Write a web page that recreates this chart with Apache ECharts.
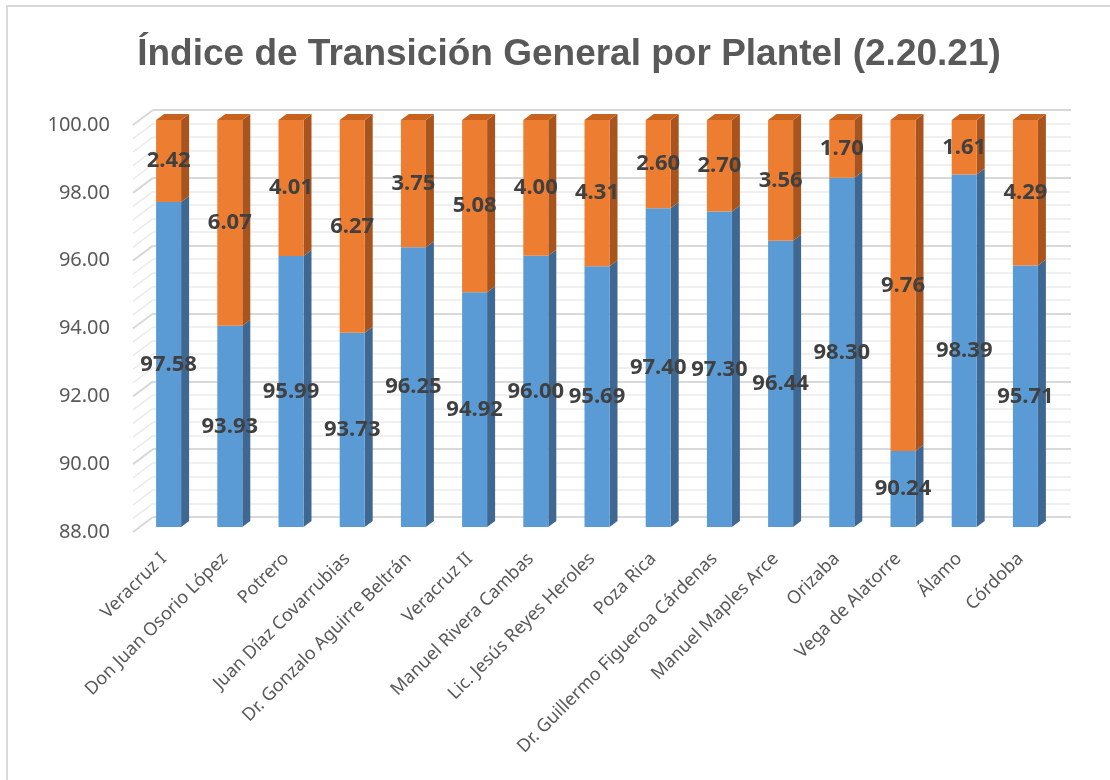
<!DOCTYPE html>
<html>
<head>
<meta charset="utf-8">
<title>Índice de Transición General por Plantel</title>
<script src="https://cdn.jsdelivr.net/npm/echarts@6/dist/echarts.min.js"></script>
<style>
  html, body { margin: 0; padding: 0; background: #fff; }
  #chart { width: 1110px; height: 780px; }
</style>
</head>
<body>
<div id="chart"></div>
<script>
// datos
const planteles = [
  'Veracruz I', 'Don Juan Osorio López', 'Potrero', 'Juan Díaz Covarrubias',
  'Dr. Gonzalo Aguirre Beltrán', 'Veracruz II', 'Manuel Rivera Cambas',
  'Lic. Jesús Reyes Heroles', 'Poza Rica', 'Dr. Guillermo Figueroa Cárdenas',
  'Manuel Maples Arce', 'Orizaba', 'Vega de Alatorre', 'Álamo', 'Córdoba'
]
const transicion = [97.58, 93.93, 95.99, 93.73, 96.25, 94.92, 96.00, 95.69, 97.40, 97.30, 96.44, 98.30, 90.24, 98.39, 95.71]
const resto = [2.42, 6.07, 4.01, 6.27, 3.75, 5.08, 4.00, 4.31, 2.60, 2.70, 3.56, 1.70, 9.76, 1.61, 4.29]
const yMin = 88
const yMax = 100
const yStep = 2
const minorSplits = 5

// geometria del "3D"
const frente = { left: 133, top: 125, width: 918, height: 407 }
const fondo = { dx: 20, dy: -15 }
const barra = { width: 25, dx: 8, dy: -6, shiftX: 5, shiftY: -5 }

const azul = { front: '#5b9bd5', side: '#3e6892', top: '#4a80b3' }
const naranja = { front: '#ed7d31', side: '#a9541c', top: '#c8621f' }

const chart = echarts.init(document.getElementById('chart'))

function prisma(x, yBottom, yTop, col, conTapa) {
  const w = barra.width
  const dx = barra.dx
  const dy = barra.dy
  const out = [
    {
      type: 'polygon',
      shape: { points: [[x + w, yBottom], [x + w + dx, yBottom + dy], [x + w + dx, yTop + dy], [x + w, yTop]] },
      style: { fill: col.side },
    },
    {
      type: 'rect',
      shape: { x: x, y: yTop, width: w, height: yBottom - yTop },
      style: { fill: col.front },
    },
  ]
  if (conTapa) {
    out.push({
      type: 'polygon',
      shape: { points: [[x, yTop], [x + dx, yTop + dy], [x + w + dx, yTop + dy], [x + w, yTop]] },
      style: { fill: col.top },
    })
  }
  return out
}

function etiqueta(x, y, txt) {
  return {
    type: 'text',
    x: x,
    y: y,
    style: {
      text: txt,
      fill: '#404040',
      font: 'bold 22px "Noto Sans", sans-serif',
      align: 'center',
      verticalAlign: 'middle',
    },
    z2: 10,
  }
}

function renderBarra(params, api) {
  const i = api.value(0)
  const v1 = api.value(1)
  const v2 = api.value(2)
  const pBase = api.coord([i, yMin])
  const pMid = api.coord([i, v1])
  const pTop = api.coord([i, v1 + v2])
  const x = pBase[0] - barra.width / 2 + barra.shiftX
  const sy = barra.shiftY
  const cx = x + barra.width / 2
  const children = []
    .concat(prisma(x, pBase[1] + sy, pMid[1] + sy, azul, false))
    .concat(prisma(x, pMid[1] + sy, pTop[1] + sy, naranja, true))
  const labMid = api.coord([i, (yMin + v1) / 2])
  const labTop = api.coord([i, v1 + v2 / 2])
  children.push(etiqueta(cx, labMid[1] + sy, v1.toFixed(2)))
  children.push(etiqueta(cx, labTop[1] + sy, v2.toFixed(2)))
  return { type: 'group', children }
}

// lineas diagonales de la pared izquierda
function renderPared(params, api) {
  const left = params.coordSys.x
  const children = []
  const paso = yStep / minorSplits
  for (let k = 0; yMin + k * paso <= yMax + 1e-6; k++) {
    const v = yMin + k * paso
    const y = api.coord([0, v])[1]
    const mayor = k % minorSplits === 0
    children.push({
      type: 'line',
      shape: { x1: left, y1: y, x2: left + fondo.dx, y2: y + fondo.dy },
      style: { stroke: mayor ? '#d9d9d9' : '#ebebeb', lineWidth: mayor ? 2 : 1.5 },
    })
  }
  return { type: 'group', children }
}

const option = {
  animation: false,
  backgroundColor: '#ffffff',
  title: {
    text: 'Índice de Transición General por Plantel (2.20.21)',
    left: 564,
    textAlign: 'center',
    top: 31,
    textStyle: {
      fontFamily: '"Liberation Sans", Arial, sans-serif',
      fontWeight: 'bold',
      fontSize: 37,
      color: '#595959',
    },
  },
  graphic: [
    {
      type: 'rect',
      z: -10,
      silent: true,
      shape: { x: 7, y: 6, width: 1200, height: 900 },
      style: { fill: 'none', stroke: '#d9d9d9', lineWidth: 2 },
    },
  ],
  grid: [
    {
      left: frente.left + fondo.dx,
      top: frente.top + fondo.dy,
      width: frente.width,
      height: frente.height,
    },
    {
      left: frente.left,
      top: frente.top,
      width: frente.width,
      height: frente.height,
    },
  ],
  xAxis: [
    {
      gridIndex: 0,
      type: 'category',
      data: planteles,
      show: false,
    },
    {
      gridIndex: 1,
      type: 'category',
      data: planteles,
      axisLine: { show: false },
      axisTick: { show: false },
      axisLabel: {
        interval: 0,
        rotate: 45,
        margin: 24,
        color: '#595959',
        fontSize: 18,
        fontFamily: '"Noto Sans", sans-serif',
      },
    },
  ],
  yAxis: [
    {
      gridIndex: 0,
      type: 'value',
      min: yMin,
      max: yMax,
      interval: yStep,
      axisLabel: { show: false },
      axisLine: { show: false },
      axisTick: { show: false },
      splitLine: { show: true, lineStyle: { color: '#d9d9d9', width: 2 } },
      minorTick: { show: false, splitNumber: minorSplits },
      minorSplitLine: { show: true, lineStyle: { color: '#ebebeb', width: 1.5 } },
    },
    {
      gridIndex: 1,
      type: 'value',
      min: yMin,
      max: yMax,
      interval: yStep,
      axisLine: { show: false },
      axisTick: { show: false },
      splitLine: { show: false },
      axisLabel: {
        margin: 23,
        color: '#595959',
        fontSize: 20,
        fontFamily: '"Noto Sans", sans-serif',
        formatter: v => v.toFixed(2),
      },
    },
  ],
  series: [
    {
      type: 'custom',
      name: 'pared',
      xAxisIndex: 1,
      yAxisIndex: 1,
      silent: true,
      z: 1,
      renderItem: renderPared,
      data: [[0, yMin]],
      clip: false,
    },
    {
      type: 'custom',
      name: 'Índice',
      xAxisIndex: 1,
      yAxisIndex: 1,
      z: 5,
      renderItem: renderBarra,
      encode: { x: 0, y: [1, 2] },
      data: planteles.map((p, i) => [i, transicion[i], resto[i]]),
      clip: false,
    },
  ],
}

chart.setOption(option)
</script>
</body>
</html>
